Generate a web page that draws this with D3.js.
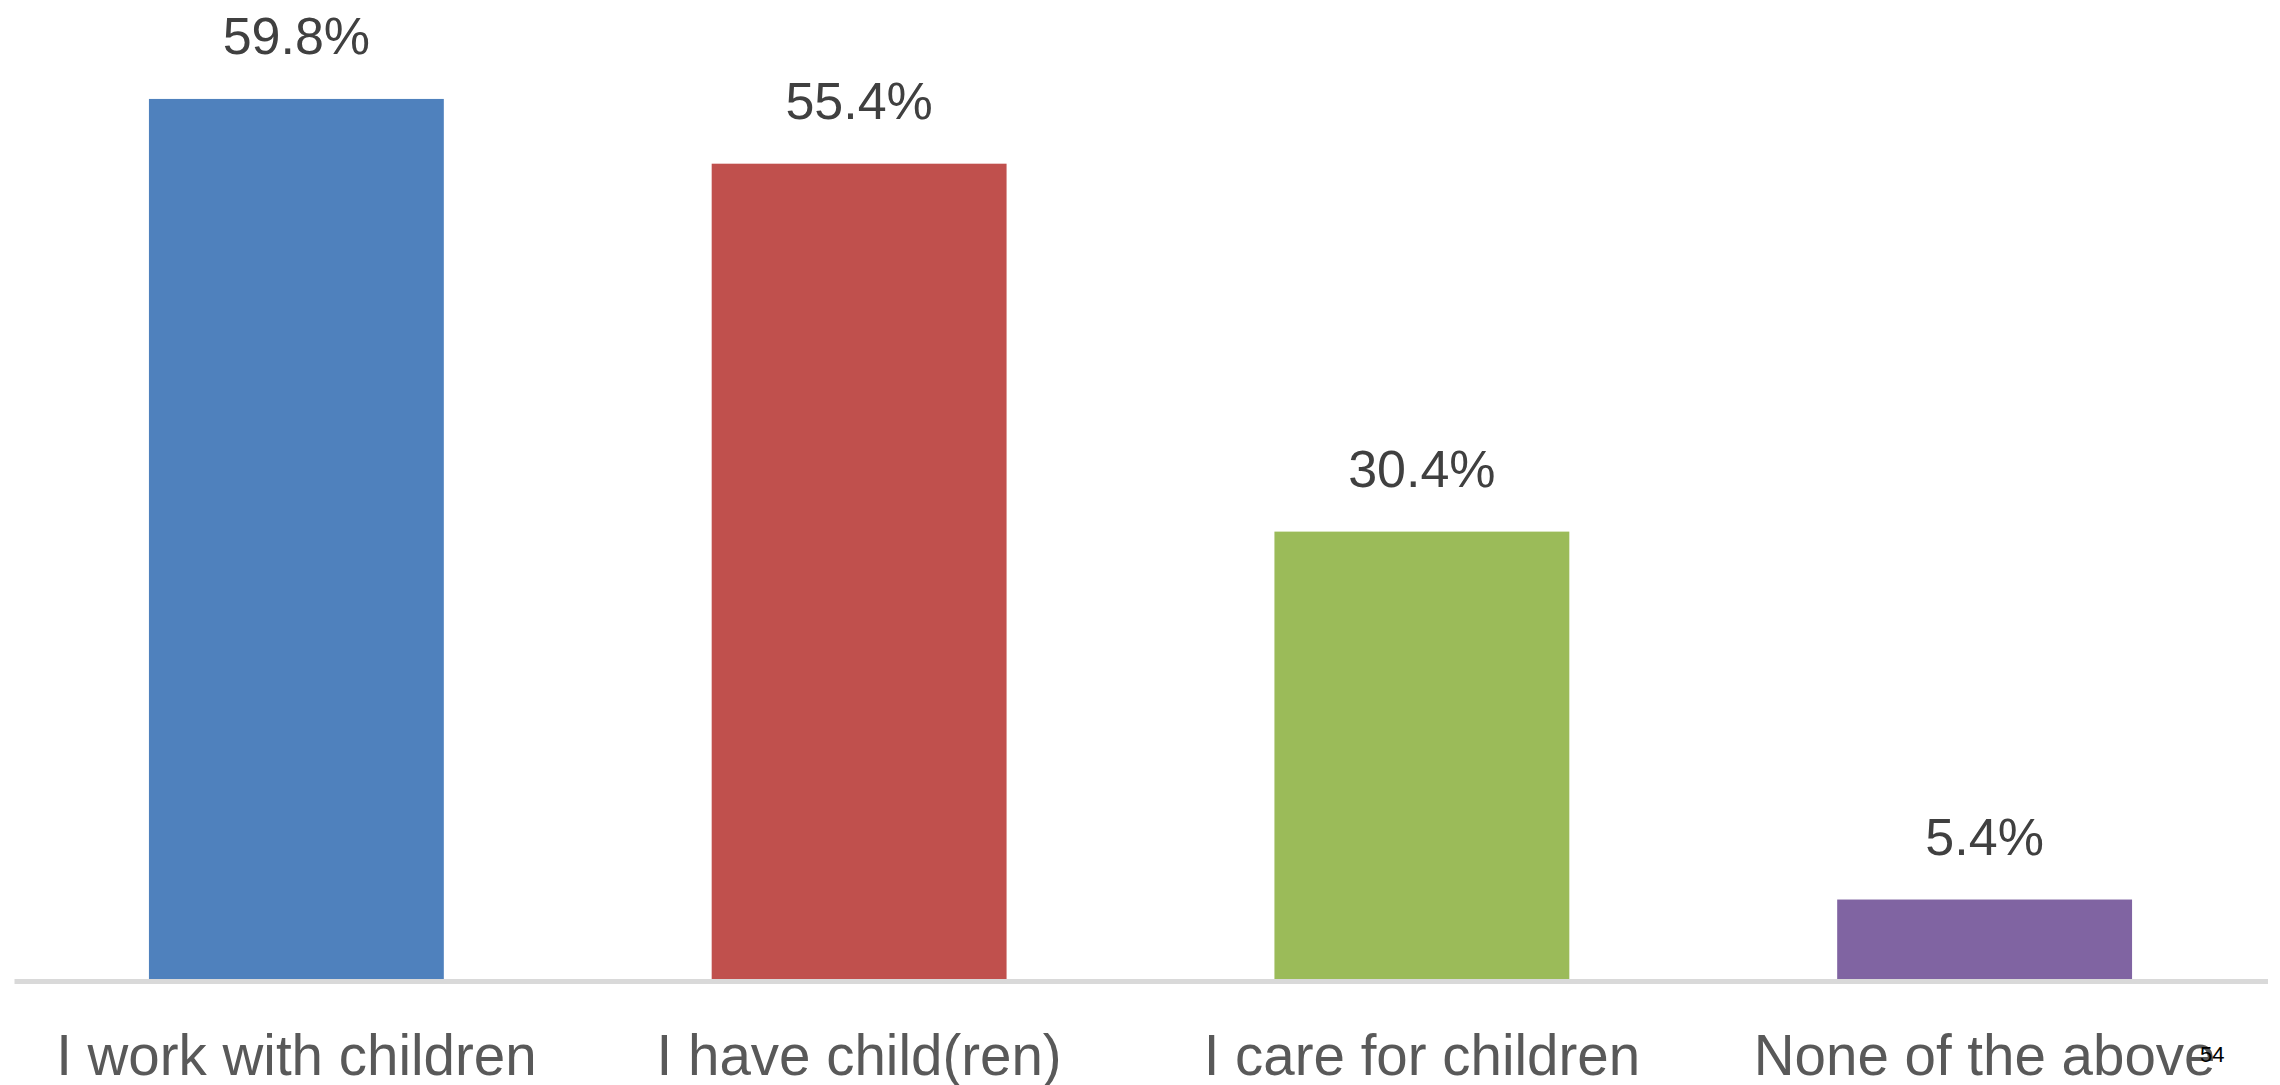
<!DOCTYPE html>
<html><head><meta charset="utf-8">
<script src="https://cdn.jsdelivr.net/npm/d3@7"></script>
<style>html,body{margin:0;padding:0;background:#fff;}</style>
</head><body>
<svg id="chart" width="2280" height="1085"></svg>
<script>
const categories = ["I work with children", "I have child(ren)", "I care for children", "None of the above"];
const values = [59.8, 55.4, 30.4, 5.4];
const colors = ["#4f81bd", "#c0504d", "#9bbb59", "#8064a2"];
const pageNumber = "54";

const svg = d3.select("#chart");
const baseY = 979;
const x = d3.scaleBand().domain(categories).range([15, 2266]).paddingInner(0.476).paddingOuter(0.238);
const y = d3.scaleLinear().domain([0, 60]).range([baseY, baseY - 883]);

svg.selectAll("rect.bar").data(values).enter().append("rect")
  .attr("class", "bar")
  .attr("x", (d, i) => x(categories[i]))
  .attr("width", x.bandwidth())
  .attr("y", d => y(d))
  .attr("height", d => y(0) - y(d))
  .attr("fill", (d, i) => colors[i]);

const axis = d3.axisBottom(x).tickSize(0).tickPadding(0);
const g = svg.append("g").attr("transform", `translate(0,${baseY})`).call(axis);
g.select(".domain").attr("stroke", "#d9d9d9").attr("stroke-width", 5).attr("d", "M14.5,2.5H2268");
g.selectAll(".tick text")
  .attr("y", 96).attr("dy", null)
  .attr("font-family", "Liberation Sans, Arial, sans-serif")
  .attr("font-size", 56.5)
  .attr("fill", "#595959");

svg.selectAll("text.val").data(values).enter().append("text")
  .attr("class", "val")
  .attr("x", (d, i) => x(categories[i]) + x.bandwidth() / 2)
  .attr("y", d => y(d) - 45)
  .attr("text-anchor", "middle")
  .attr("font-family", "Liberation Sans, Arial, sans-serif")
  .attr("font-size", 52)
  .attr("fill", "#404040")
  .text(d => d.toFixed(1) + "%");

svg.append("text").attr("x", 2200).attr("y", 1062)
  .attr("font-family", "Liberation Sans, Arial, sans-serif")
  .attr("font-size", 22).attr("fill", "#000").text(pageNumber);
</script>
</body></html>
